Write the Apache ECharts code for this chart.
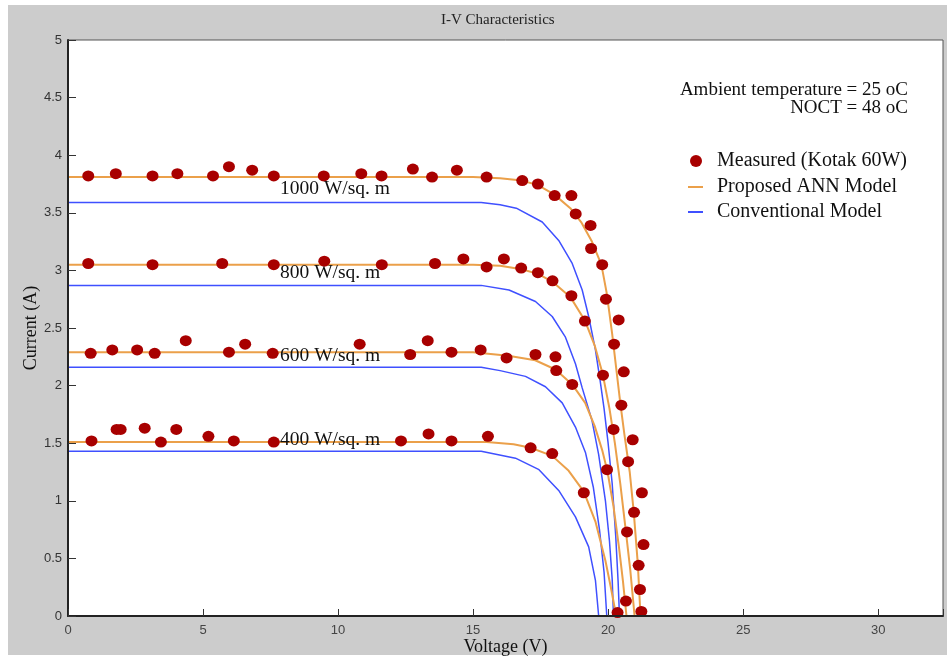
<!DOCTYPE html>
<html>
<head>
<meta charset="utf-8">
<title>I-V Characteristics</title>
<script src="https://cdn.jsdelivr.net/npm/echarts@6/dist/echarts.min.js"></script>
<style>
html, body { margin: 0; padding: 0; background: #fff; }
#wrap { position: relative; width: 947px; height: 657px; }
#panel { position: absolute; left: 8px; top: 5px; width: 939px; height: 650px; background: #cccccc; }
#main { position: absolute; left: 0; top: 0; width: 947px; height: 657px; }
</style>
</head>
<body>
<div id="wrap">
  <div id="panel"></div>
  <div id="main"></div>
</div>
<script>
// curve labels, one per irradiance level
let irradianceLabels = ['1000 W/sq. m', '800 W/sq. m', '600 W/sq. m', '400 W/sq. m'];

// Proposed ANN model curves [voltage, current]
let ann1000 = [[0, 0], [0, 3.81], [15.0, 3.81], [16.0, 3.80], [16.8, 3.78], [17.4, 3.74], [18.0, 3.66], [18.6, 3.54], [19.0, 3.42], [19.4, 3.25], [19.75, 3.05], [19.95, 2.80], [20.15, 2.45], [20.3, 2.15], [20.45, 1.85], [20.6, 1.58], [20.8, 1.25], [20.95, 0.90], [21.1, 0.45], [21.2, 0]];
let ann800 = [[0, 0], [0, 3.05], [15.0, 3.05], [16.0, 3.04], [16.8, 3.01], [17.4, 2.97], [17.95, 2.90], [18.6, 2.77], [19.15, 2.56], [19.5, 2.35], [19.8, 2.10], [20.05, 1.80], [20.25, 1.50], [20.45, 1.15], [20.65, 0.75], [20.82, 0.40], [20.98, 0]];
let ann600 = [[0, 0], [0, 2.29], [15.0, 2.29], [16.3, 2.26], [17.3, 2.22], [18.05, 2.14], [18.67, 2.01], [19.15, 1.85], [19.5, 1.65], [19.78, 1.44], [19.98, 1.25], [20.2, 0.95], [20.4, 0.60], [20.55, 0.30], [20.68, 0]];
let ann400 = [[0, 0], [0, 1.51], [15.5, 1.51], [16.5, 1.49], [17.13, 1.46], [17.93, 1.39], [18.54, 1.26], [19.1, 1.08], [19.53, 0.82], [19.9, 0.48], [20.1, 0.25], [20.3, 0]];

// Conventional model curves
let conv1000 = [[0, 0], [0, 3.59], [15.3, 3.59], [16.0, 3.57], [16.6, 3.54], [17.56, 3.42], [18.17, 3.26], [18.67, 3.06], [19.04, 2.83], [19.28, 2.60], [19.53, 2.31], [19.7, 2.05], [19.85, 1.80], [20.0, 1.50], [20.15, 1.15], [20.28, 0.70], [20.37, 0.30], [20.42, 0]];
let conv800 = [[0, 0], [0, 2.87], [15.3, 2.87], [16.33, 2.83], [17.31, 2.73], [17.93, 2.60], [18.42, 2.42], [18.79, 2.19], [19.04, 1.98], [19.4, 1.70], [19.65, 1.40], [19.9, 1.00], [20.05, 0.65], [20.15, 0.32], [20.2, 0]];
let conv600 = [[0, 0], [0, 2.16], [15.3, 2.16], [16.0, 2.13], [16.94, 2.08], [17.68, 1.99], [18.3, 1.85], [18.79, 1.64], [19.16, 1.42], [19.45, 1.12], [19.68, 0.75], [19.85, 0.38], [19.95, 0]];
let conv400 = [[0, 0], [0, 1.43], [15.3, 1.43], [16.57, 1.37], [17.44, 1.27], [18.17, 1.09], [18.79, 0.86], [19.28, 0.60], [19.53, 0.31], [19.65, 0]];

// measured points (Kotak 60W)
let meas1000 = [[0.75, 3.82], [1.77, 3.84], [3.13, 3.82], [4.05, 3.84], [5.37, 3.82], [5.96, 3.90], [6.82, 3.87], [7.62, 3.82], [9.47, 3.82], [10.86, 3.84], [11.61, 3.82], [12.77, 3.88], [13.48, 3.81], [14.40, 3.87], [15.50, 3.81], [16.82, 3.78], [17.40, 3.75], [18.02, 3.65], [18.64, 3.65], [18.80, 3.49], [19.35, 3.39], [19.37, 3.19], [19.78, 3.05], [19.92, 2.75], [20.39, 2.57], [20.22, 2.36], [20.58, 2.12], [20.49, 1.83], [20.91, 1.53], [20.74, 1.34], [21.25, 1.07], [20.96, 0.90], [21.31, 0.62], [21.13, 0.44], [21.18, 0.23], [21.23, 0.04]];
let meas800 = [[0.75, 3.06], [3.13, 3.05], [5.71, 3.06], [7.62, 3.05], [9.49, 3.08], [11.62, 3.05], [13.59, 3.06], [14.64, 3.10], [15.50, 3.03], [16.14, 3.10], [16.78, 3.02], [17.40, 2.98], [17.94, 2.91], [18.64, 2.78], [19.14, 2.56], [19.81, 2.09], [20.20, 1.62], [20.70, 0.73], [20.66, 0.13]];
let meas600 = [[0.84, 2.28], [1.64, 2.31], [2.56, 2.31], [3.21, 2.28], [4.36, 2.39], [5.96, 2.29], [6.56, 2.36], [7.58, 2.28], [10.80, 2.36], [12.67, 2.27], [13.32, 2.39], [14.20, 2.29], [15.28, 2.31], [16.24, 2.24], [17.31, 2.27], [18.05, 2.25], [18.08, 2.13], [18.67, 2.01], [19.96, 1.27], [20.35, 0.03]];
let meas400 = [[0.87, 1.52], [1.80, 1.62], [1.95, 1.62], [2.84, 1.63], [3.44, 1.51], [4.01, 1.62], [5.20, 1.56], [6.14, 1.52], [7.62, 1.51], [12.33, 1.52], [13.35, 1.58], [14.20, 1.52], [15.55, 1.56], [17.13, 1.46], [17.93, 1.41], [19.10, 1.07]];

let annCurves = [ann1000, ann800, ann600, ann400];
let convCurves = [conv1000, conv800, conv600, conv400];
let measured = [meas1000, meas800, meas600, meas400];

const ORANGE = '#eba04a';
const BLUE = '#3f50ff';
const RED = '#a80000';
const serif = "'Liberation Serif', 'DejaVu Serif', serif";
const sans = "'Liberation Sans', Arial, sans-serif";

var myChart = echarts.init(document.getElementById('main'));

var series = [];
convCurves.forEach(d => {
    series.push({
        type: 'line',
        name: 'Conventional Model',
        data: d,
        symbol: 'none',
        z: 2,
        lineStyle: { color: BLUE, width: 1.5 },
        itemStyle: { color: BLUE }
    });
});
annCurves.forEach(d => {
    series.push({
        type: 'line',
        name: 'Proposed ANN Model',
        data: d,
        symbol: 'none',
        z: 3,
        lineStyle: { color: ORANGE, width: 2 },
        itemStyle: { color: ORANGE }
    });
});
measured.forEach(d => {
    series.push({
        type: 'scatter',
        name: 'Measured (Kotak 60W)',
        data: d,
        symbol: 'circle',
        symbolSize: [12, 11],
        z: 4,
        itemStyle: { color: RED, opacity: 1 }
    });
});

// curve labels and notes (pixel positions)
let labelY = [189, 273, 356, 440];
var graphics = irradianceLabels.map((t, i) => ({
    type: 'text',
    x: 280,
    y: labelY[i],
    z: 10,
    style: { text: t, fill: '#111', font: '19.5px ' + serif, verticalAlign: 'middle' }
}));
graphics.push({
    type: 'text', x: 908, y: 90, z: 10,
    style: { text: 'Ambient temperature = 25 oC', fill: '#111', font: '19px ' + serif, align: 'right', verticalAlign: 'middle' }
});
graphics.push({
    type: 'text', x: 908, y: 108, z: 10,
    style: { text: 'NOCT = 48 oC', fill: '#111', font: '19px ' + serif, align: 'right', verticalAlign: 'middle' }
});

var legendText = { fontFamily: serif, fontSize: 20, color: '#111', lineHeight: 20, padding: [0, 0, 0, 9] };

var option = {
    animation: false,
    title: {
        text: 'I-V Characteristics',
        left: 441,
        top: 13,
        padding: 0,
        textStyle: { fontFamily: serif, fontSize: 15, fontWeight: 'normal', color: '#222' }
    },
    legend: [
        {
            orient: 'vertical',
            left: 690,
            top: 151,
            padding: 0,
            icon: 'circle',
            itemWidth: 12,
            itemHeight: 12,
            data: ['Measured (Kotak 60W)'],
            textStyle: Object.assign({}, legendText, { padding: [0, 0, 0, 10] })
        },
        {
            orient: 'vertical',
            left: 688,
            top: 177,
            padding: 0,
            icon: 'rect',
            itemWidth: 15,
            itemHeight: 2,
            itemGap: 5,
            data: ['Proposed ANN Model', 'Conventional Model'],
            textStyle: legendText
        }
    ],
    grid: {
        left: 68,
        right: 4,
        top: 40,
        bottom: 41,
        outerBoundsMode: 'none',
        show: true,
        backgroundColor: '#fff',
        borderColor: '#555',
        borderWidth: 1
    },
    xAxis: {
        type: 'value',
        min: 0,
        max: 32.4,
        interval: 5,
        z: 5,
        name: 'Voltage (V)',
        nameLocation: 'middle',
        nameGap: 22,
        nameMoveOverlap: false,
        nameTextStyle: { fontFamily: serif, fontSize: 18, color: '#111' },
        axisLine: { lineStyle: { color: '#222', width: 2 } },
        axisTick: { inside: true, length: 7, lineStyle: { color: '#333' } },
        axisLabel: {
            fontFamily: sans, fontSize: 13, color: '#444', margin: 8,
            formatter: v => (v % 5 === 0 ? String(v) : '')
        },
        splitLine: { show: false }
    },
    yAxis: {
        type: 'value',
        min: 0,
        max: 5,
        interval: 0.5,
        z: 5,
        name: 'Current (A)',
        nameLocation: 'middle',
        nameGap: 28,
        nameMoveOverlap: false,
        nameTextStyle: { fontFamily: serif, fontSize: 18, color: '#111' },
        axisLine: { lineStyle: { color: '#222', width: 2 } },
        axisTick: { inside: true, length: 8, lineStyle: { color: '#333' } },
        axisLabel: { fontFamily: sans, fontSize: 13, color: '#333', margin: 6 },
        splitLine: { show: false }
    },
    graphic: graphics,
    series: series
};

myChart.setOption(option);
</script>
</body>
</html>
